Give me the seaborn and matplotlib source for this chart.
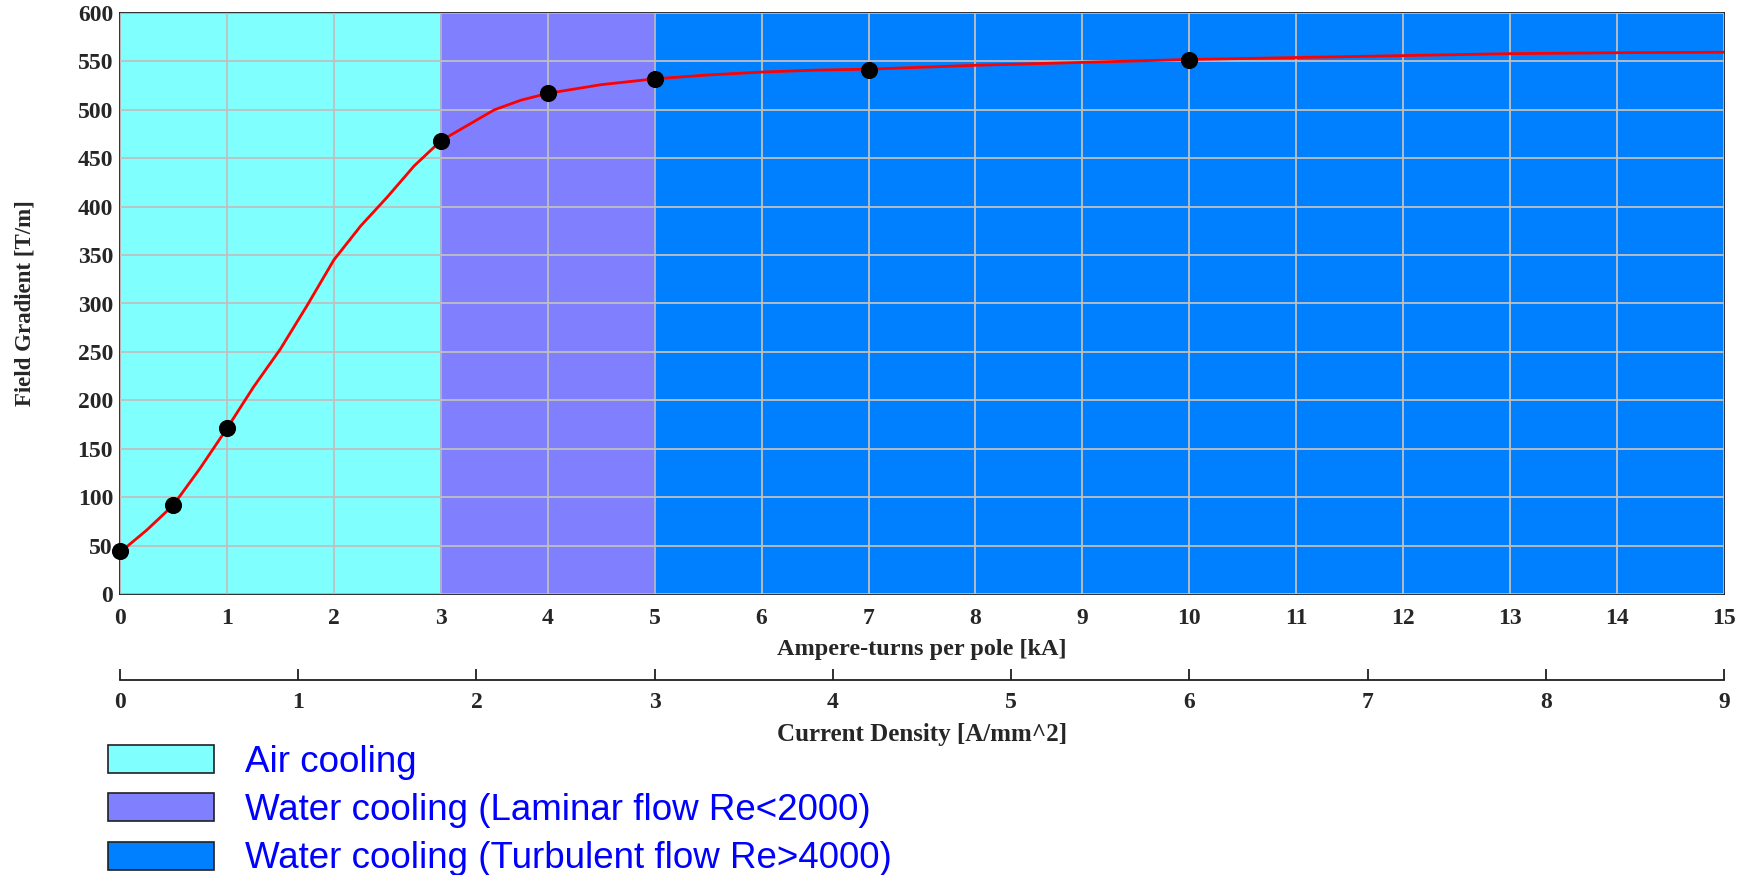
import matplotlib
matplotlib.use("Agg")
import matplotlib.pyplot as plt
import seaborn as sns
import pandas as pd
from matplotlib.patches import Patch

# ---- data ----
curve_x = [0, 0.25, 0.5, 0.75, 1, 1.25, 1.5, 1.75, 2, 2.25, 2.5, 2.75, 3, 3.25, 3.5, 3.75,
           4, 4.5, 5, 5.5, 6, 6.5, 7, 8, 9, 10, 11, 12, 13, 14, 15]
curve_y = [43, 66, 92, 130, 171, 214, 253, 298, 345, 380, 410, 442, 468, 484, 500, 510,
           517, 526, 532, 536, 539, 541, 542, 546, 549, 552, 554, 556, 558, 559, 559.5]
meas_x = [0, 0.5, 1, 3, 4, 5, 7, 10]
meas_y = [44, 92, 171, 468, 517, 532, 541, 551]
region_edges = [0, 3, 5, 15]
region_labels = ["Air cooling", "Water cooling (Laminar flow Re<2000)",
                 "Water cooling (Turbulent flow Re>4000)"]
region_colors = ["#80FFFF", "#8080FF", "#0080FF"]
x_ticks = list(range(0, 16))
y_ticks = list(range(0, 601, 50))
density_ticks = list(range(0, 10))
density_per_kA = 0.6

sns.set_style("white")
plt.rcParams["font.family"] = ["Liberation Serif", "DejaVu Serif"]

W, H = 1761, 875
fig = plt.figure(figsize=(W / 100, H / 100), dpi=100)
L, R, T, B = 120, 1724, 13, 594
ax = fig.add_axes([L / W, 1 - B / H, (R - L) / W, (B - T) / H])

for i, lab in enumerate(region_labels):
    ax.axvspan(region_edges[i], region_edges[i + 1], color=region_colors[i], lw=0, zorder=0)
for e in region_edges[1:-1]:
    ax.axvline(e, color="#0000FF", lw=1.3, zorder=2)

ax.set_xlim(0, 15)
ax.set_ylim(0, 600)
ax.set_xticks(x_ticks)
ax.set_yticks(y_ticks)
ax.grid(True, color="#C0C0C0", lw=1.3, zorder=1)
ax.set_axisbelow(False)

df_c = pd.DataFrame({"x": curve_x, "y": curve_y})
df_m = pd.DataFrame({"x": meas_x, "y": meas_y})
sns.lineplot(data=df_c, x="x", y="y", ax=ax, color="#FF0000", lw=2, zorder=3, sort=False)
sns.scatterplot(data=df_m, x="x", y="y", ax=ax, color="black", s=130, edgecolor="black",
                zorder=4, clip_on=False)

for sp in ax.spines.values():
    sp.set_color("#202020")
    sp.set_linewidth(1.3)
ax.tick_params(axis="x", length=0, pad=10, labelsize=17)
ax.tick_params(axis="y", length=0, pad=5, labelsize=17)
for t in ax.get_xticklabels() + ax.get_yticklabels():
    t.set_fontweight("bold")
ax.set_xlabel("Ampere-turns per pole [kA]", fontsize=17.5, fontweight="bold", labelpad=7)
ax.set_ylabel("Field Gradient [T/m]", fontsize=16.5, fontweight="bold", labelpad=30)

sec = ax.secondary_xaxis(-0.148, functions=(lambda v: v * density_per_kA,
                                            lambda v: v / density_per_kA))
sec.set_xticks(density_ticks)
sec.tick_params(direction="in", length=8, width=1.3, pad=9, labelsize=17, color="#202020")
for t in sec.get_xticklabels():
    t.set_fontweight("bold")
sec.spines["bottom"].set_linewidth(1.3)
sec.spines["bottom"].set_color("#202020")
sec.set_xlabel("Current Density [A/mm^2]", fontsize=18, fontweight="bold", labelpad=6.5)

handles = [Patch(facecolor=c, edgecolor="#202020", lw=1.2) for c in region_colors]
leg = fig.legend(handles, region_labels, loc="upper left",
                 bbox_to_anchor=(108 / W, 1 - 745 / H), frameon=False,
                 prop={"family": "Liberation Sans", "size": 26.5},
                 handlelength=2.87, handleheight=0.79, handletextpad=0.85,
                 labelspacing=0.36, borderpad=0, borderaxespad=0)
for t in leg.get_texts():
    t.set_color("#0000FF")

fig.savefig("out.png", dpi=100)
